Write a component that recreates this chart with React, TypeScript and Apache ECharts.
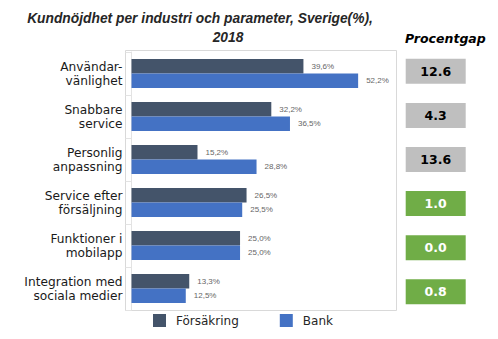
import React, { useEffect, useRef } from "react";
import * as echarts from "echarts";

const categories = [
  "Användar-\nvänlighet",
  "Snabbare\nservice",
  "Personlig\nanpassning",
  "Service efter\nförsäljning",
  "Funktioner i\nmobilapp",
  "Integration med\nsociala medier",
];
const forsakring = [39.6, 32.2, 15.2, 26.5, 25.0, 13.3];
const bank = [52.2, 36.5, 28.8, 25.5, 25.0, 12.5];
const gapValues = [12.6, 4.3, 13.6, 1.0, 0.0, 0.8];
const gapColumn = ["Procentgap"];

const GRAY_BOX = "#bfbfbf";
const GREEN_BOX = "#70ad47";

export default function App() {
  const ref = useRef<HTMLDivElement>(null);
  useEffect(() => {
    if (!ref.current) return;
    const chart = echarts.init(ref.current, null, { renderer: "svg" });
    const pct = (p: any) => p.value.toFixed(1).replace(".", ",") + "%";
    const barLabel = {
      show: true,
      position: "right",
      distance: 8,
      formatter: pct,
      fontFamily: "Liberation Sans",
      fontSize: 8,
      color: "#666666",
    };
    chart.setOption({
      animation: false,
      graphic: [
        {
          type: "rect",
          z: -1,
          shape: { x: 125.5, y: 50.5, width: 271, height: 260 },
          style: { fill: "none", stroke: "#d9d9d9", lineWidth: 1 },
        },
        {
          type: "text",
          x: 200,
          y: 18.5,
          style: {
            text: "Kundnöjdhet per industri och parameter, Sverige(%),",
            align: "center",
            verticalAlign: "middle",
            fontFamily: "Liberation Sans",
            fontWeight: "bold",
            fontStyle: "italic",
            fontSize: 13.8,
            fill: "#262626",
          },
        },
        {
          type: "text",
          x: 228,
          y: 37,
          style: {
            text: "2018",
            align: "center",
            verticalAlign: "middle",
            fontFamily: "Liberation Sans",
            fontWeight: "bold",
            fontStyle: "italic",
            fontSize: 13.8,
            fill: "#262626",
          },
        },
        {
          type: "text",
          x: 445.4,
          y: 38,
          style: {
            text: "Procentgap",
            align: "center",
            verticalAlign: "middle",
            fontFamily: "DejaVu Sans",
            fontWeight: "bold",
            fontStyle: "italic",
            fontSize: 12.5,
            fill: "#000000",
          },
        },
      ],
      legend: {
        left: 153,
        top: 314,
        padding: 0,
        itemWidth: 13,
        itemHeight: 13,
        itemGap: 41,
        icon: "rect",
        data: ["Försäkring", "Bank"],
        textStyle: {
          fontFamily: "DejaVu Sans",
          fontSize: 12,
          color: "#262626",
          padding: [0, 0, 0, 5],
        },
      },
      grid: [
        { left: 131.5, right: 106, top: 52, bottom: 29, containLabel: false },
        { left: 405.2, width: 61, top: 49.25, bottom: 25.15, containLabel: false },
      ],
      xAxis: [
        {
          type: "value",
          gridIndex: 0,
          min: 0,
          max: 60,
          show: false,
        },
        {
          type: "category",
          gridIndex: 1,
          data: gapColumn,
          show: false,
        },
      ],
      yAxis: [
        {
          type: "category",
          gridIndex: 0,
          data: categories,
          inverse: true,
          axisLine: { show: true, lineStyle: { color: "#e3e3e3" } },
          axisTick: { show: true, length: 6, lineStyle: { color: "#e3e3e3" } },
          axisLabel: {
            margin: 9,
            fontFamily: "DejaVu Sans",
            fontSize: 12.2,
            lineHeight: 14,
            color: "#1a1a1a",
            align: "right",
          },
        },
        {
          type: "category",
          gridIndex: 1,
          data: categories,
          inverse: true,
          show: false,
        },
      ],
      series: [
        {
          name: "Försäkring",
          type: "bar",
          data: forsakring,
          barGap: "0%",
          barCategoryGap: "33%",
          itemStyle: { color: "#44546a" },
          label: barLabel,
        },
        {
          name: "Bank",
          type: "bar",
          data: bank,
          barGap: "0%",
          barCategoryGap: "33%",
          itemStyle: { color: "#4472c4" },
          label: barLabel,
        },
        {
          type: "scatter",
          xAxisIndex: 1,
          yAxisIndex: 1,
          symbol: "rect",
          symbolSize: [60, 25],
          data: gapValues.map((v, i) => {
            const big = v > 2;
            return {
              value: [gapColumn[0], i, v],
              itemStyle: { color: big ? GRAY_BOX : GREEN_BOX, opacity: 1 },
              label: { color: big ? "#000000" : "#ffffff" },
            };
          }),
          itemStyle: { opacity: 1 },
          label: {
            show: true,
            position: "inside",
            formatter: (p: any) => p.value[2].toFixed(1),
            fontFamily: "DejaVu Sans",
            fontWeight: "bold",
            fontSize: 12.5,
          },
        },
      ],
    });
    return () => chart.dispose();
  }, []);
  return <div ref={ref} style={{ width: 498, height: 339, margin: -8 }} />;
}
